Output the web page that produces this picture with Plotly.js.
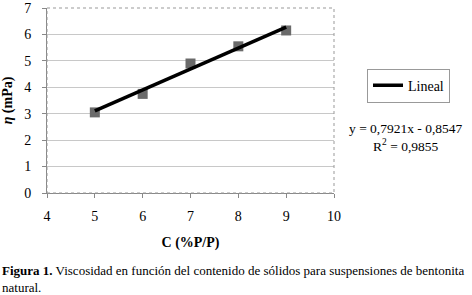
<!DOCTYPE html>
<html><head><meta charset="utf-8">
<script src="https://cdn.plot.ly/plotly-3.0.1.min.js"></script>
<style>body{margin:0;background:#fff}#c{width:472px;height:295px}</style>
</head><body><div id="c"></div>
<script>
const concentration = [5, 6, 7, 8, 9];
const viscosity = [3.05, 3.75, 4.9, 5.55, 6.15];
const slope = 0.7921;
const intercept = -0.8547;
const r2Text = "0,9855";
const trendX = [5, 9];
const trendY = trendX.map(x => slope * x + intercept);
const serif = "Liberation Serif, Times New Roman, serif";

const data = [
  {x: concentration, y: viscosity, mode: "markers", type: "scatter", showlegend: false,
   marker: {symbol: "square", size: 10, color: "#6a6a6a"}},
  {x: trendX, y: trendY, mode: "lines", type: "scatter", name: "Lineal", showlegend: true,
   line: {color: "#000", width: 3.5}}
];
const layout = {
  width: 472, height: 295,
  margin: {l: 47, r: 138, t: 8, b: 102},
  paper_bgcolor: "#fff", plot_bgcolor: "#fff",
  font: {family: serif, size: 14, color: "#000"},
  xaxis: {range: [4, 10], dtick: 1, tick0: 4, showgrid: false, zeroline: false,
    showline: true, linecolor: "#888", linewidth: 1,
    ticks: "outside", ticklen: 4, tickcolor: "#888", ticklabelstandoff: 6,
    tickfont: {family: serif, size: 14},
    title: {text: "<b>C (%P/P)</b>", font: {family: serif, size: 14}, standoff: 14}},
  yaxis: {range: [0, 7], dtick: 1, showgrid: true, gridcolor: "#c8c8c8", zeroline: false,
    showline: true, linecolor: "#888", linewidth: 1,
    ticks: "outside", ticklen: 4, tickcolor: "#888", ticklabelstandoff: 8,
    tickfont: {family: serif, size: 14},
    title: {text: "<b><i>η</i> (mPa)</b>", font: {family: serif, size: 14}, standoff: 10}},
  legend: {x: 1.115, y: 0.58, xanchor: "left", yanchor: "middle",
    bordercolor: "#999", borderwidth: 1, bgcolor: "#fff",
    font: {family: serif, size: 14}},
  shapes: [
    {type: "rect", xref: "paper", yref: "paper", x0: 0, x1: 1, y0: 0, y1: 1,
     line: {color: "#999", width: 1, dash: "dot"}}
  ],
  annotations: [
    {xref: "paper", yref: "paper", x: 1.455, y: 0.30, xanchor: "right", yanchor: "middle",
     showarrow: false, align: "center",
     text: "y = 0,7921x - 0,8547<br>R<sup>2</sup> = " + r2Text,
     font: {family: serif, size: 13.5}},
    {xref: "paper", yref: "paper", x: -0.163, y: -0.37, xanchor: "left", yanchor: "top",
     showarrow: false, align: "left",
     text: "<b>Figura 1.</b> Viscosidad en función del contenido de sólidos para suspensiones de bentonita<br>natural.",
     font: {family: serif, size: 13}}
  ]
};
Plotly.newPlot("c", data, layout, {displayModeBar: false, staticPlot: true});
</script></body></html>
